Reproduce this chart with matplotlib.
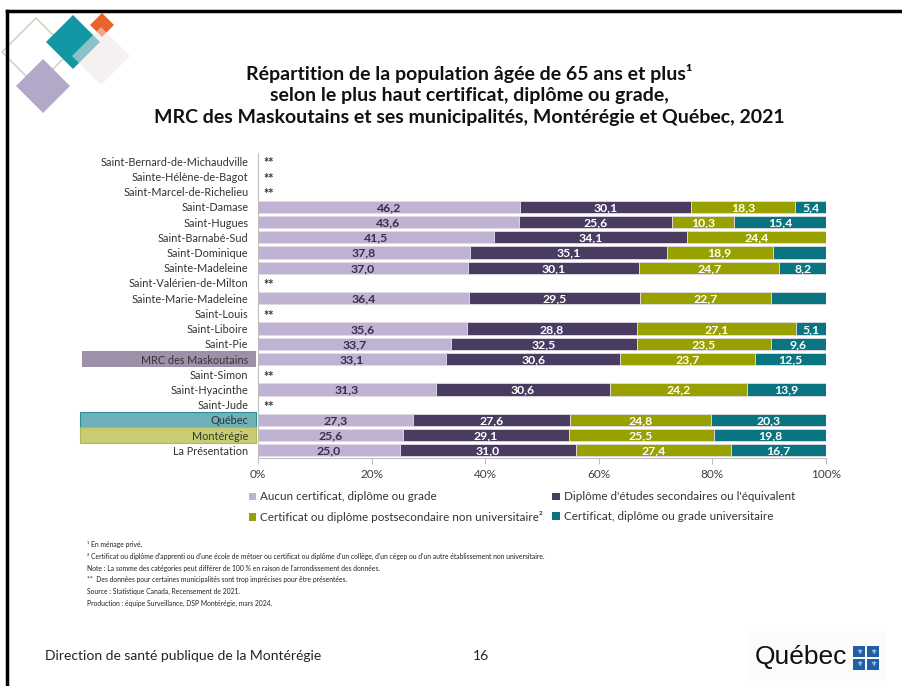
import numpy as np
import matplotlib.pyplot as plt
from matplotlib.patches import Patch, Rectangle, Polygon
from matplotlib.lines import Line2D
from matplotlib.transforms import blended_transform_factory

plt.rcParams["font.family"] = ["Lato", "DejaVu Sans"]

NA = np.nan

places = [
    "Saint-Bernard-de-Michaudville", "Sainte-Hélène-de-Bagot", "Saint-Marcel-de-Richelieu",
    "Saint-Damase", "Saint-Hugues", "Saint-Barnabé-Sud", "Saint-Dominique", "Sainte-Madeleine",
    "Saint-Valérien-de-Milton", "Sainte-Marie-Madeleine", "Saint-Louis", "Saint-Liboire",
    "Saint-Pie", "MRC des Maskoutains", "Saint-Simon", "Saint-Hyacinthe", "Saint-Jude",
    "Québec", "Montérégie", "La Présentation",
]

aucun = [NA, NA, NA, 46.2, 43.6, 41.5, 37.8, 37.0, NA, 36.4, NA, 35.6, 33.7, 33.1, NA, 31.3, NA, 27.3, 25.6, 25.0]
secondaire = [NA, NA, NA, 30.1, 25.6, 34.1, 35.1, 30.1, NA, 29.5, NA, 28.8, 32.5, 30.6, NA, 30.6, NA, 27.6, 29.1, 31.0]
postsec = [NA, NA, NA, 18.3, 10.3, 24.4, 18.9, 24.7, NA, 22.7, NA, 27.1, 23.5, 23.7, NA, 24.2, NA, 24.8, 25.5, 27.4]
univ = [NA, NA, NA, 5.4, 15.4, NA, 9.5, 8.2, NA, 9.5, NA, 5.1, 9.6, 12.5, NA, 13.9, NA, 20.3, 19.8, 16.7]
# segments drawn but not labelled in the original
univ_unlabelled = ["Saint-Dominique", "Sainte-Marie-Madeleine"]

series_names = [
    "Aucun certificat, diplôme ou grade",
    "Diplôme d'études secondaires ou l'équivalent",
    "Certificat ou diplôme postsecondaire non universitaire²",
    "Certificat, diplôme ou grade universitaire",
]
series_colors = ["#c0b2d3", "#4a3b60", "#98a100", "#0a7480"]
label_colors = ["#3b2d4c", "white", "white", "white"]

W, H = 902, 686


def fx(px):
    return px / W


def fy(py):
    return 1 - py / H


fig = plt.figure(figsize=(W / 100, H / 100), dpi=100)
fig.patch.set_facecolor("white")

# slide border
fig.add_artist(Line2D([fx(7), 1], [fy(11), fy(11)], color="black", lw=2.5))
fig.add_artist(Line2D([fx(7), fx(7)], [fy(11), 0], color="black", lw=2.5))

# decorative diamonds (top left)
def diamond(cx, cy, r, **kw):
    pts = [(fx(cx), fy(cy - r)), (fx(cx + r), fy(cy)), (fx(cx), fy(cy + r)), (fx(cx - r), fy(cy))]
    fig.add_artist(Polygon(pts, closed=True, transform=fig.transFigure, **kw))

diamond(36, 52, 34, facecolor="none", edgecolor="#ccd4bf", lw=1.1)
diamond(43, 86, 27, facecolor="#b3a8c8", edgecolor="none")
diamond(73, 42, 27, facecolor="#1497a5", edgecolor="none")
diamond(102, 25, 12, facecolor="#e8642a", edgecolor="none")
diamond(101, 56, 29, facecolor="#ebe7e4", edgecolor="none", alpha=0.55)

# title
fig.text(fx(469), fy(95),
         "Répartition de la population âgée de 65 ans et plus¹\n"
         "selon le plus haut certificat, diplôme ou grade,\n"
         "MRC des Maskoutains et ses municipalités, Montérégie et Québec, 2021",
         ha="center", va="center", fontsize=14, fontweight="bold", color="#111111",
         linespacing=1.32)

# chart
ax = fig.add_axes([fx(258), fy(458), fx(826) - fx(258), fy(153.5) - fy(458)])
y = np.arange(len(places))
data = np.array([aucun, secondaire, postsec, univ], dtype=float)
totals = np.nansum(data, axis=0)
lefts = np.zeros(len(places))

for k in range(4):
    widths = np.where(np.isnan(data[k]), 0, data[k] / np.where(totals == 0, 1, totals) * 100)
    for i in range(len(places)):
        if np.isnan(data[k][i]):
            continue
        ax.barh(y[i], widths[i], left=lefts[i], height=0.8, color=series_colors[k],
                edgecolor="#e2dce8", linewidth=0.6)
        if not (k == 3 and places[i] in univ_unlabelled):
            ax.text(lefts[i] + widths[i] / 2, y[i] + 0.05, f"{data[k][i]:.1f}".replace(".", ","),
                    ha="center", va="center", fontsize=8.8, fontweight="bold", color=label_colors[k])
    lefts = lefts + widths

for i in range(len(places)):
    if totals[i] == 0:
        ax.text(1, y[i] + 0.15, "**", ha="left", va="center", fontsize=9, fontweight="bold",
                color="#333333")

ax.set_xlim(0, 100)
ax.set_ylim(len(places) - 0.5, -0.5)
ax.set_yticks(y)
ax.set_yticklabels(places, fontsize=7.8, color="#333333")
ax.set_xticks([0, 20, 40, 60, 80, 100])
ax.set_xticklabels(["0%", "20%", "40%", "60%", "80%", "100%"], fontsize=8.5, color="#404040")
ax.tick_params(axis="y", length=0, pad=7)
ax.tick_params(axis="x", length=4, color="#bfbfbf", pad=4)
for s in ["top", "right"]:
    ax.spines[s].set_visible(False)
ax.spines["left"].set_color("#bfbfbf")
ax.spines["bottom"].set_color("#bfbfbf")

# highlighted category labels
tr = blended_transform_factory(fig.transFigure, ax.transData)
highlights = {
    "MRC des Maskoutains": ("#9c91a8", "none", 82),
    "Québec": ("#6fb0b9", "#2a8d99", 80),
    "Montérégie": ("#c7cd70", "#b0b850", 80),
}
for name, (fc, ec, x0) in highlights.items():
    i = places.index(name)
    ax.add_patch(Rectangle((fx(x0), i - 0.52), fx(256) - fx(x0), 1.04, transform=tr,
                           facecolor=fc, edgecolor=ec, lw=0.8, clip_on=False, zorder=-1))

# legend
handles = [Patch(facecolor=c, edgecolor="none") for c in series_colors]
order = [0, 2, 1, 3]
fig.legend([handles[o] for o in order], [series_names[o] for o in order],
           loc="upper left", bbox_to_anchor=(fx(238), fy(481)), ncol=2, frameon=False,
           fontsize=8.4, handlelength=0.65, handleheight=0.65, handletextpad=0.35,
           columnspacing=0.8, labelspacing=0.75, labelcolor="#333333")

# notes
notes = [
    "¹ En ménage privé.",
    "² Certificat ou diplôme d'apprenti ou d'une école de métoer ou certificat ou diplôme d'un collège, d'un cégep ou d'un autre établissement non universitaire.",
    "Note : La somme des catégories peut différer de 100 % en raison de l'arrondissement des données.",
    "**  Des données pour certaines municipalités sont trop imprécises pour être présentées.",
    "Source : Statistique Canada, Recensement de 2021.",
    "Production : équipe Surveillance, DSP Montérégie, mars 2024.",
]
for j, line in enumerate(notes):
    fig.text(fx(87), fy(545 + j * 11.6), line, ha="left", va="center", fontsize=4.9, color="#222222")

# footer
fig.text(fx(45), fy(656), "Direction de santé publique de la Montérégie", ha="left", va="center",
         fontsize=10, color="#222222")
fig.text(fx(481), fy(656), "16", ha="center", va="center", fontsize=10, color="#222222")

fig.add_artist(Rectangle((fx(748), fy(681)), fx(886) - fx(748), fy(631) - fy(681),
                         transform=fig.transFigure, facecolor="#fcfbfa", edgecolor="none"))
fig.text(fx(801), fy(657), "Québec", ha="center", va="center", fontsize=19,
         family=["Liberation Sans", "DejaVu Sans"], color="#111111")
for qx in (853, 867):
    for qy in (646, 659):
        fig.add_artist(Rectangle((fx(qx), fy(qy + 11)), fx(12), 11 / H, transform=fig.transFigure,
                                 facecolor="#1f5fa8", edgecolor="none"))
        fig.text(fx(qx + 6), fy(qy + 5.5), "⚜", ha="center", va="center", fontsize=5,
                 family=["DejaVu Sans"], color="white")

fig.savefig("out.png", dpi=100)
